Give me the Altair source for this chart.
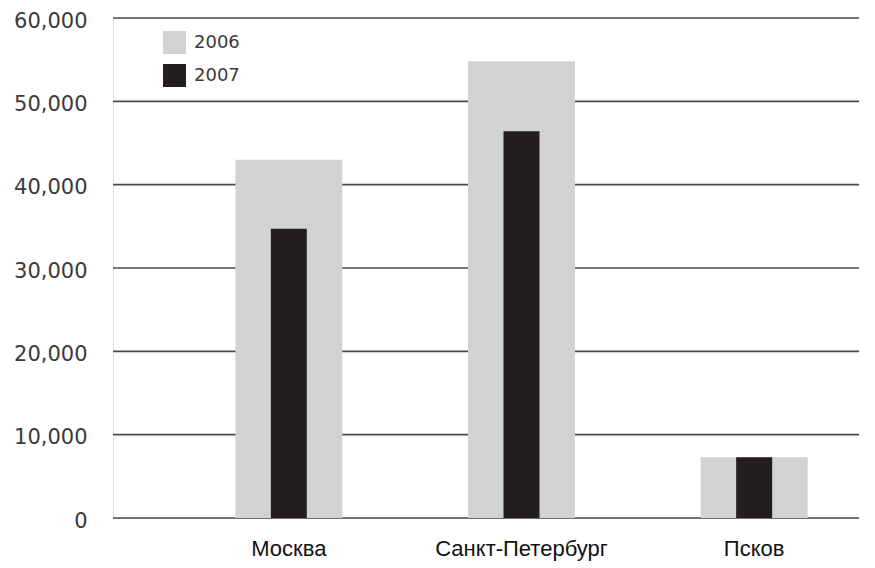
import altair as alt
import pandas as pd

cities = ["Москва", "Санкт-Петербург", "Псков"]
values_2006 = [43000, 54800, 7300]
values_2007 = [34700, 46400, 7300]
years = ["2006", "2007"]
y_ticks = [0, 10000, 20000, 30000, 40000, 50000, 60000]

rows = []
for c, v6, v7 in zip(cities, values_2006, values_2007):
    rows.append({"city": c, "year": "2006", "value": v6})
    rows.append({"city": c, "year": "2007", "value": v7})
df = pd.DataFrame(rows)
ticks_df = pd.DataFrame({"value": y_ticks})

PLOT_W = 746

color_scale = alt.Scale(domain=years, range=["#d1d2d4", "#231f20"])
y_scale = alt.Scale(domain=[0, 60000], nice=False)

x_enc = alt.X(
    "city:N",
    sort=cities,
    scale=alt.Scale(range=[59.5, 757.5], paddingInner=0, paddingOuter=0),
    axis=alt.Axis(
        title=None, labelAngle=0, domain=False, ticks=False,
        labelFont="Liberation Sans", labelFontSize=22, labelColor="#111111",
        labelPadding=20,
    ),
)
y_axis = alt.Axis(
    title=None, values=y_ticks, format=",d", domain=False, ticks=False,
    grid=False,
    labelFont="DejaVu Sans", labelFontSize=21, labelColor="#3a3a3a",
    labelPadding=26, labelOffset=3,
)
y_enc = alt.Y("value:Q", scale=y_scale, axis=y_axis)

grid = alt.Chart(ticks_df).mark_rule(color="#4a4a4a", strokeWidth=1.6).encode(
    y=y_enc,
    x=alt.value(0),
    x2=alt.value(PLOT_W),
)

base = alt.Chart(df)

gray = base.transform_filter(alt.datum.year == "2006").mark_bar(size=107).encode(
    x=x_enc,
    y=y_enc,
    color=alt.Color(
        "year:N", scale=color_scale,
        legend=alt.Legend(
            title=None, orient="none", legendX=50, legendY=13,
            symbolType="square", symbolSize=529, symbolStrokeWidth=0,
            labelFont="DejaVu Sans", labelFontSize=18, labelColor="#3a3a3a",
            labelOffset=8, rowPadding=10, padding=0,
            values=years,
        ),
    ),
)

black = base.transform_filter(alt.datum.year == "2007").mark_bar(size=36).encode(
    x=x_enc,
    y=y_enc,
    color=alt.Color("year:N", scale=color_scale, legend=None),
)

chart = (
    alt.layer(grid, gray, black)
    .properties(
        width=PLOT_W, height=500,
        autosize=alt.AutoSizeParams(type="none"),
        padding={"left": 105, "top": 10, "right": 0, "bottom": 44},
    )
    .configure_view(stroke=None)
    .configure(background="white")
)

chart.save("out.html", embed_options={"renderer": "svg", "actions": False})
